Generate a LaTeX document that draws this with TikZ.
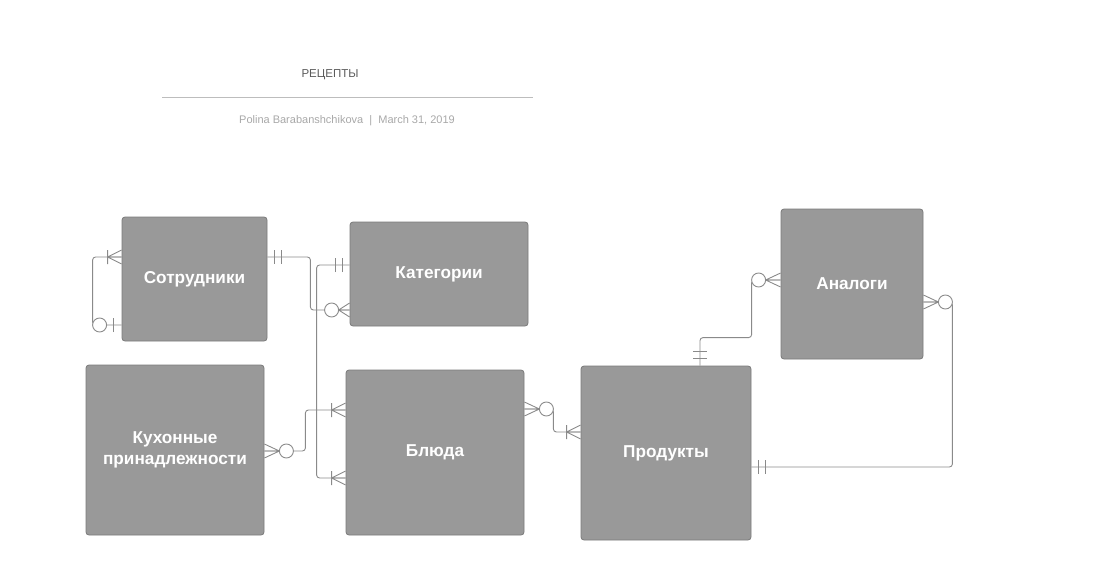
\documentclass[tikz,border=0pt]{standalone}
\usepackage{fontspec}
\setmainfont{Liberation Sans}
\usetikzlibrary{calc,
                positioning}
\definecolor{boxgray}{HTML}{999999}
\definecolor{boxedge}{HTML}{7A7A7A}
\definecolor{linegray}{HTML}{8A8A8A}
\definecolor{titlegray}{HTML}{5A5A5A}
\definecolor{subgray}{HTML}{A8A8A8}
\definecolor{rulegray}{HTML}{BDBDBD}

\begin{document}
\begin{tikzpicture}[x=1pt, y=-1pt,
                    entity/.style={draw=boxedge, fill=boxgray, line width=0.8pt, rounded corners=3pt,
                                   inner sep=0, align=center, text=white,
                                   font=\fontsize{17.2}{21}\selectfont\bfseries},
                    link/.style={draw=linegray, line width=0.9pt, rounded corners=3pt},
                    cardline/.style={draw=linegray, line width=0.9pt},
                    onemany/.pic={\draw[cardline] (14,0) -- (0,-7) (14,0) -- (0,0) (14,0) -- (0,7) (14,-7) -- (14,7);},
                    zeromany/.pic={\draw[cardline] (15,0) -- (0,-7) (15,0) -- (0,0) (15,0) -- (0,7);
                                   \draw[cardline, fill=white] (22,0) circle[radius=7];},
                    zeromanyshort/.pic={\draw[cardline] (11,0) -- (0,-7) (11,0) -- (0,0) (11,0) -- (0,7);
                                   \draw[cardline, fill=white] (18,0) circle[radius=7];},
                    oneone/.pic={\draw[cardline] (7,-7) -- (7,7) (14,-7) -- (14,7);},
                    zeroone/.pic={\draw[cardline] (8,-7) -- (8,7);
                                  \draw[cardline, fill=white] (22,0) circle[radius=7];}
                    ]
    \useasboundingbox (0,0) rectangle (1100,578);

    % header
    \node[text=titlegray, font=\fontsize{11.5}{14}\selectfont] at (330,74.5) (title) {РЕЦЕПТЫ};
    \draw[rulegray, line width=1pt] (162,97) -- (533,97);
    \node[text=subgray, font=\fontsize{11}{13}\selectfont] at (347,120.5) (byline) {Polina Barabanshchikova~~|~~March 31, 2019};

    % entities
    \node[entity, minimum width=145, minimum height=124] at (194.5,279) (staff) {Сотрудники};
    \node[entity, minimum width=178, minimum height=104] at (439,274)   (categ) {Категории};
    \node[entity, minimum width=178, minimum height=170] at (175,450)   (tools) {Кухонные\\принадлежности};
    \node[entity, minimum width=178, minimum height=165] at (435,452.5) (dish)  {Блюда};
    \node[entity, minimum width=170, minimum height=174] at (666,453)   (prod)  {Продукты};
    \node[entity, minimum width=142, minimum height=150] at (852,284)   (analog){Аналоги};

    % relations
    \draw[link] ($(staff.west)+(0,-22)$) -- ++(-29,0) |- ($(staff.west)+(0,46)$);
    \draw[link] ($(staff.east)+(0,-22)$) -- ++(43,0) |- ($(categ.west)+(0,36)$);
    \draw[link] ($(categ.west)+(0,-9)$)  -- ++(-33,0) |- ($(dish.west)+(0,25.5)$);
    \draw[link] ($(tools.east)+(0,1)$)   -- ++(41,0) |- ($(dish.west)+(0,-42.5)$);
    \draw[link] ($(dish.east)+(0,-43.5)$) -- ++(29,0) |- ($(prod.west)+(0,-21)$);
    \draw[link] ($(prod.north)+(34,0)$)  -- ++(0,-28) -| ($(analog.west)+(-29,-4)$) -- ($(analog.west)+(0,-4)$);
    \draw[link] ($(analog.east)+(0,18)$) -- ++(29,0) |- ($(prod.east)+(0,14)$);

    % cardinality marks
    \pic[rotate=180] at ($(staff.west)+(0,-22)$) {onemany};
    \pic[rotate=180] at ($(staff.west)+(0,46)$)  {zeroone};
    \pic             at ($(staff.east)+(0,-22)$) {oneone};
    \pic[rotate=180] at ($(categ.west)+(0,36)$)  {zeromanyshort};
    \pic[rotate=180] at ($(categ.west)+(0,-9)$)  {oneone};
    \pic[rotate=180] at ($(dish.west)+(0,25.5)$) {onemany};
    \pic             at ($(tools.east)+(0,1)$)   {zeromany};
    \pic[rotate=180] at ($(dish.west)+(0,-42.5)$) {onemany};
    \pic             at ($(dish.east)+(0,-43.5)$) {zeromany};
    \pic[rotate=180] at ($(prod.west)+(0,-21)$)  {onemany};
    \pic[rotate=90]  at ($(prod.north)+(34,0)$)  {oneone};
    \pic[rotate=180] at ($(analog.west)+(0,-4)$) {zeromany};
    \pic             at ($(analog.east)+(0,18)$) {zeromany};
    \pic             at ($(prod.east)+(0,14)$)   {oneone};

\end{tikzpicture}
\end{document}
